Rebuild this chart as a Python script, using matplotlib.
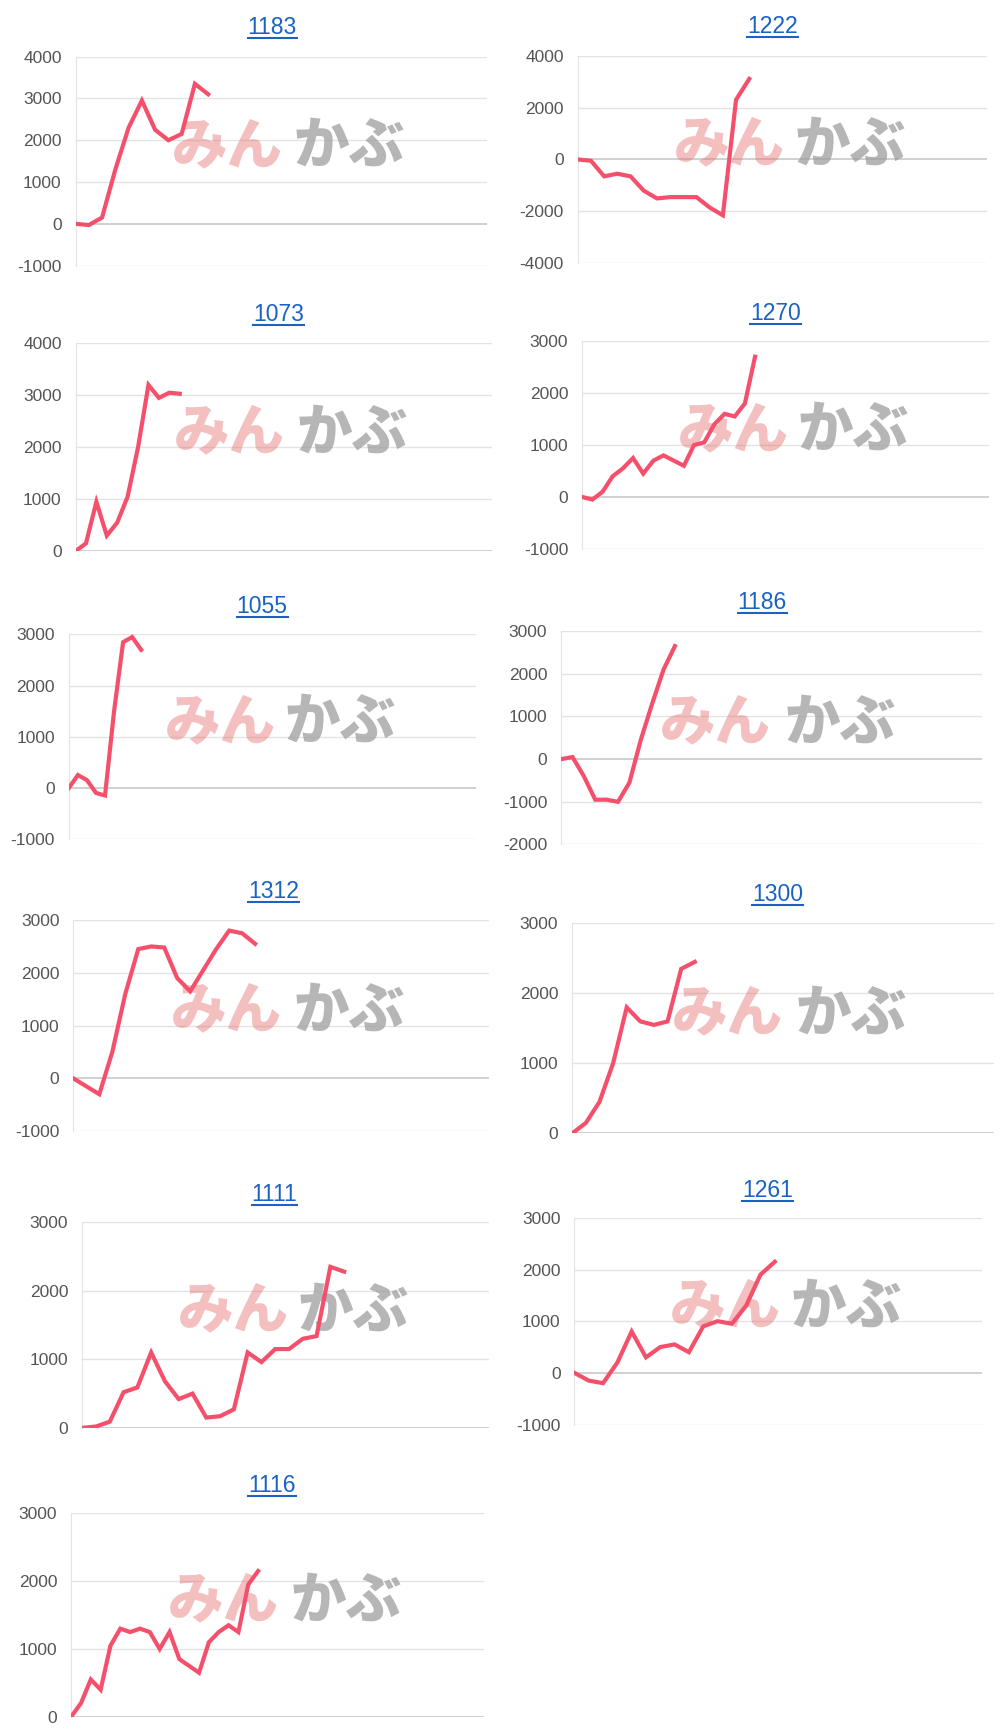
import matplotlib
matplotlib.use("Agg")
import matplotlib.pyplot as plt
from matplotlib.lines import Line2D

plt.rcParams['font.family'] = ['Liberation Sans', 'DejaVu Sans']
plt.rcParams['axes.unicode_minus'] = False

# ── Data ────────────────────────────────────────────────────────────────────────
names = ["1183", "1222", "1073", "1270", "1055", "1186", "1312", "1300", "1111", "1261", "1116"]

s1183 = [0, -30, 150, 1300, 2300, 2950, 2250, 2000, 2150, 3350, 3100]
s1222 = [0, -50, -650, -550, -650, -1200, -1500, -1450, -1450, -1450, -1850, -2150, 2300, 3100]
s1073 = [0, 150, 950, 300, 550, 1050, 2000, 3200, 2950, 3050, 3030]
s1270 = [0, -50, 100, 400, 550, 750, 450, 700, 800, 700, 600, 1000, 1050, 1400, 1600, 1550, 1800, 2700]
s1055 = [0, 250, 150, -100, -150, 1500, 2850, 2950, 2700]
s1186 = [0, 50, -400, -950, -950, -1000, -550, 450, 1300, 2100, 2650]
s1312 = [0, -150, -300, 500, 1600, 2450, 2500, 2480, 1900, 1650, 2050, 2450, 2800, 2750, 2550]
s1300 = [0, 150, 450, 1000, 1800, 1600, 1550, 1600, 2350, 2450]
s1111 = [0, 20, 90, 520, 590, 1100, 680, 420, 500, 150, 170, 270, 1100, 960, 1150, 1150, 1300, 1340, 2350, 2280]
s1261 = [0, -150, -200, 200, 800, 300, 500, 550, 400, 900, 1000, 950, 1300, 1900, 2150]
s1116 = [0, 200, 550, 400, 1050, 1300, 1250, 1300, 1250, 1000, 1250, 850, 750, 650, 1100, 1250, 1350, 1250, 1950, 2150]

series = [s1183, s1222, s1073, s1270, s1055, s1186, s1312, s1300, s1111, s1261, s1116]
yticks = [
    [-1000, 0, 1000, 2000, 3000, 4000],
    [-4000, -2000, 0, 2000, 4000],
    [0, 1000, 2000, 3000, 4000],
    [-1000, 0, 1000, 2000, 3000],
    [-1000, 0, 1000, 2000, 3000],
    [-2000, -1000, 0, 1000, 2000, 3000],
    [-1000, 0, 1000, 2000, 3000],
    [0, 1000, 2000, 3000],
    [0, 1000, 2000, 3000],
    [-1000, 0, 1000, 2000, 3000],
    [0, 1000, 2000, 3000],
]
x_span = [31, 31, 40, 40, 45, 37, 32, 31, 29.5, 28.5, 42]

# layout in screen px of a 900x1556 view: (left, right, top, bottom, title_x, title_y)
boxes = [
    (68, 438, 51, 239, 245, 25), (520, 888, 50, 237, 695, 24),
    (68, 443, 309, 496, 251, 283), (524, 890, 307, 494, 698, 282),
    (62, 428, 571, 755, 236, 546), (505, 884, 568, 760, 686, 542),
    (66, 440, 828, 1018, 246, 802), (515, 895, 831, 1020, 700, 805),
    (74, 440, 1100, 1285, 247, 1075), (517, 884, 1096, 1282, 691, 1071),
    (64, 436, 1362, 1545, 245, 1337),
]

W, H = 900.0, 1556.0
LINE = "#f4506c"
GRID = "#e3e3e3"
BASE = "#c8c8c8"
TICK = "#555555"
TITLE = "#1a62c4"

fig = plt.figure(figsize=(10, 17.29), dpi=100, facecolor="white")

titles = []
for name, data, ticks, span, (l, r, t, b, tx_, ty) in zip(names, series, yticks, x_span, boxes):
    ax = fig.add_axes([l / W, 1 - b / H, (r - l) / W, (b - t) / H])
    ax.set_xlim(0, span)
    ax.set_ylim(ticks[0], ticks[-1])
    ax.set_yticks(ticks)
    ax.set_xticks([])
    for tk in ticks:
        ax.axhline(tk, color=BASE if tk == 0 else GRID, linewidth=1.2 if tk == 0 else 1.0, zorder=1)
    for side in ("top", "right", "bottom"):
        ax.spines[side].set_visible(False)
    ax.spines["left"].set_color(GRID)
    ax.tick_params(axis="y", length=0, labelsize=12.5, labelcolor=TICK, pad=10)

    # watermark
    ax.text(0.235, 0.57, "みん", transform=ax.transAxes, fontsize=40, fontweight="black",
            color="#e57373", alpha=0.45, va="center", ha="left",
            family=["Noto Sans CJK JP"], zorder=2)
    ax.text(0.53, 0.57, "かぶ", transform=ax.transAxes, fontsize=40, fontweight="black",
            color="#9e9e9e", alpha=0.75, va="center", ha="left",
            family=["Noto Sans CJK JP"], zorder=2)

    ax.plot(range(len(data)), data, color=LINE, linewidth=3.0, zorder=3,
            solid_joinstyle="miter")

    tx = fig.text(tx_ / W, 1 - ty / H, name, color=TITLE, fontsize=16.5,
                  ha="center", va="center")
    titles.append(tx)

# underline titles
fig.canvas.draw()
renderer = fig.canvas.get_renderer()
fw, fh = fig.bbox.width, fig.bbox.height
for tx in titles:
    bb = tx.get_window_extent(renderer)
    y = (bb.y0 + 1) / fh
    fig.add_artist(Line2D([bb.x0 / fw, bb.x1 / fw], [y, y], color=TITLE, linewidth=1.5))

fig.savefig("out.png", dpi=100, facecolor="white")
